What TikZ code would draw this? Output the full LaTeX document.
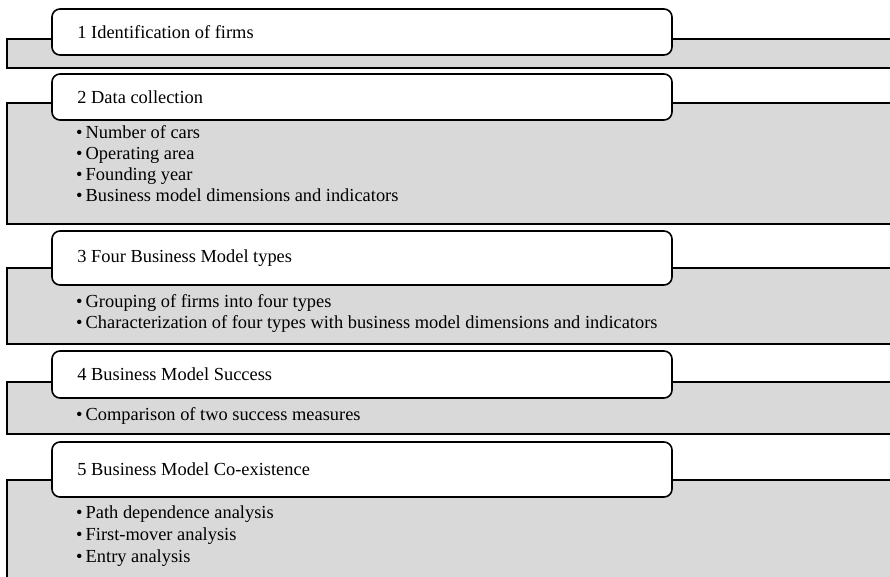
\documentclass[tikz,border=0pt]{standalone}
\usepackage{fontspec}
\setmainfont{Liberation Serif}
\usetikzlibrary{positioning}
\tikzset{stage box/.style={rectangle,rounded corners=8pt,draw,line width=1.6pt,fill=white,minimum width=620pt},
  back box/.style={draw,line width=1.6pt,fill=black!15},
  stage title/.style={anchor=west,inner sep=0pt,font=\fontsize{18.4}{21}\selectfont},
  item list/.style={anchor=base west,align=left,inner sep=0pt,font=\fontsize{18.4}{21}\selectfont} }

\begin{document}
\begin{tikzpicture}[x=1pt,y=-1pt]
  \clip (0,0) rectangle (890,576);

  % stage 1
  \draw[back box] (7,39) rectangle (900,68);
  \node[stage box,minimum height=46pt] (1) at (362,32) {};
  \node[stage title] (t1) [right=26pt of 1.west] {1 Identification of firms};

  % stage 2
  \draw[back box] (7,103) rectangle (900,224);
  \node[stage box,minimum height=46pt] (2) at (362,97) {};
  \node[stage title] (t2) [right=26pt of 2.west] {2 Data collection};
  \node[item list] (l2) at (76,201.5) {\textbullet\,Number of cars\\ \textbullet\,Operating area\\ \textbullet\,Founding year\\ \textbullet\,Business model dimensions and indicators};

  % stage 3
  \draw[back box] (7,268) rectangle (900,344);
  \node[stage box,minimum height=54pt] (3) at (362,258) {};
  \node[stage title] (t3) [right=26pt of 3.west] {3 Four Business Model types};
  \node[item list] (l3) at (76,328) {\textbullet\,Grouping of firms into four types\\ \textbullet\,Characterization of four types with business model dimensions and indicators};

  % stage 4
  \draw[back box] (7,382) rectangle (900,434);
  \node[stage box,minimum height=47pt] (4) at (362,374.5) {};
  \node[stage title] (t4) [right=26pt of 4.west] {4 Business Model Success};
  \node[item list] (l4) at (76,420) {\textbullet\,Comparison of two success measures};

  % stage 5
  \draw[back box] (7,480) rectangle (900,600);
  \node[stage box,minimum height=55pt] (5) at (362,469.5) {};
  \node[stage title] (t5) [right=26pt of 5.west] {5 Business Model Co-existence};
  \node[item list,font=\fontsize{18.4}{22}\selectfont] (l5) at (76,562) {\textbullet\,Path dependence analysis\\ \textbullet\,First-mover analysis\\ \textbullet\,Entry analysis};
\end{tikzpicture}
\end{document}
